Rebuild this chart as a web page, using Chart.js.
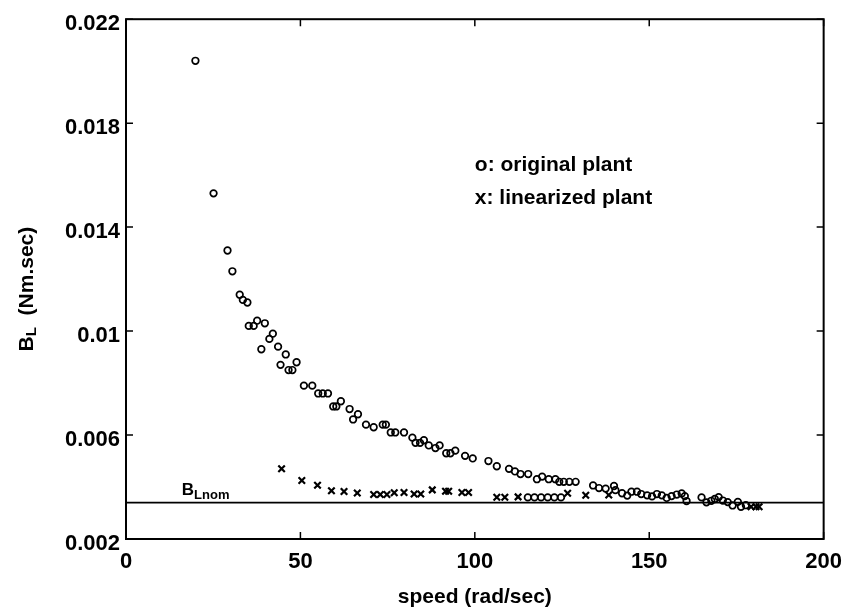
<!DOCTYPE html>
<html>
<head>
<meta charset="utf-8">
<title>B_L vs speed</title>
<script src="https://cdn.jsdelivr.net/npm/chart.js@4/dist/chart.umd.min.js"></script>
<style>
  html, body { margin: 0; padding: 0; background: #fff; }
  #wrap { width: 852px; height: 615px; }
</style>
</head>
<body>
<div id="wrap"><canvas id="chart" width="852" height="615"></canvas></div>
<script>
// original plant: speed (rad/sec) and B_L (Nm.sec)
const origSpeed = [
  19.9, 25.1, 29.1, 30.5, 32.6, 33.5, 34.8, 35.2, 36.6, 37.6,
  38.8, 39.8, 41.1, 42.1, 43.6, 44.3, 45.8, 46.6, 47.7, 48.9,
  51.0, 53.4, 55.1, 56.4, 57.9, 59.4, 60.3, 61.6, 64.1, 65.1,
  66.5, 68.8, 71.0, 73.6, 74.5, 75.9, 77.2, 79.7, 82.1, 83.0,
  84.3, 85.4, 86.8, 88.7, 89.9, 91.8, 93.0, 94.4, 97.2, 99.4,
  103.9, 106.3, 109.8, 111.5, 113.1, 115.3, 117.8, 119.3, 121.2, 123.1,
  124.2, 125.5, 127.1, 128.9,
  115.2, 117.1, 119.0, 120.9, 122.8, 124.7,
  133.9, 135.6, 137.5, 139.9, 140.3, 142.2, 143.7, 144.9, 146.5, 147.7,
  149.4, 150.8, 152.2, 153.6, 155.0, 156.4, 157.9, 159.3, 160.2, 160.7,
  165.0, 166.4, 167.8, 168.8, 169.9, 171.1, 172.5, 173.9, 175.4, 176.3,
  177.7
];
const origBL = [
  0.0204, 0.0153, 0.0131, 0.0123, 0.0114, 0.0112, 0.0111, 0.0102, 0.0102, 0.0104,
  0.0093, 0.0103, 0.0097, 0.0099, 0.0094, 0.0087, 0.0091, 0.0085, 0.0085, 0.0088,
  0.0079, 0.0079, 0.0076, 0.0076, 0.0076, 0.0071, 0.0071, 0.0073, 0.0070, 0.0066,
  0.0068, 0.0064, 0.0063, 0.0064, 0.0064, 0.0061, 0.0061, 0.0061, 0.0059, 0.0057,
  0.0057, 0.0058, 0.0056, 0.0055, 0.0056, 0.0053, 0.0053, 0.0054, 0.0052, 0.0051,
  0.0050, 0.0048, 0.0047, 0.0046, 0.0045, 0.0045, 0.0043, 0.0044, 0.0043, 0.0043,
  0.0042, 0.0042, 0.0042, 0.0042,
  0.0036, 0.0036, 0.0036, 0.0036, 0.0036, 0.0036,
  0.00406, 0.00396, 0.00394, 0.00404, 0.00388, 0.00376, 0.00367, 0.00382, 0.00382, 0.00373,
  0.00368, 0.00364, 0.00373, 0.00368, 0.00358, 0.00365, 0.00371, 0.00375, 0.00365, 0.00346,
  0.00360, 0.00341, 0.00347, 0.00354, 0.00361, 0.00348, 0.00342, 0.00329, 0.00343, 0.00324,
  0.00330
];

// linearized plant
const linSpeed = [
  44.6, 50.4, 54.9, 58.9, 62.5, 66.3, 71.0, 72.9, 74.8, 76.9,
  79.7, 82.6, 84.5, 87.8, 91.6, 92.5, 96.3, 98.2, 106.3, 108.6,
  112.4, 126.6, 131.8, 138.4, 179.2, 180.6, 181.5
];
const linBL = [
  0.0047, 0.00425, 0.00407, 0.00386, 0.00383, 0.00377, 0.00371, 0.00371, 0.00371, 0.00378,
  0.00379, 0.00373, 0.00373, 0.00389, 0.00384, 0.00384, 0.00379, 0.00379, 0.00361, 0.00361,
  0.00362, 0.00376, 0.00368, 0.00369, 0.00324, 0.00324, 0.00324
];

// nominal load damping
const nomSpeed = [0, 200];
const nomBL = 0.0034;

const xTicks = [0, 50, 100, 150, 200];
const yTicks = [0.002, 0.006, 0.01, 0.014, 0.018, 0.022];
const yTickLabels = ["0.002", "0.006", "0.01", "0.014", "0.018", "0.022"];

const FONT = "'Liberation Sans', Arial, Helvetica, sans-serif";
const INK = "#000";

const toPoints = (xs, ys) => xs.map((x, i) => ({ x: x, y: ys[i] }));

// box, inward ticks and the hand-placed texts
const framePlugin = {
  id: "frame",
  afterDraw(chart) {
    const ctx = chart.ctx;
    const a = chart.chartArea;
    const xs = chart.scales.x;
    const ys = chart.scales.y;
    const tl = 7;

    ctx.save();
    ctx.strokeStyle = INK;
    ctx.lineWidth = 2;
    ctx.strokeRect(a.left, a.top, a.right - a.left, a.bottom - a.top);

    ctx.lineWidth = 1.5;
    ctx.beginPath();
    xTicks.forEach(v => {
      const px = xs.getPixelForValue(v);
      ctx.moveTo(px, a.bottom); ctx.lineTo(px, a.bottom - tl);
      ctx.moveTo(px, a.top); ctx.lineTo(px, a.top + tl);
    });
    yTicks.forEach(v => {
      const py = ys.getPixelForValue(v);
      ctx.moveTo(a.left, py); ctx.lineTo(a.left + tl, py);
      ctx.moveTo(a.right, py); ctx.lineTo(a.right - tl, py);
    });
    ctx.stroke();

    ctx.fillStyle = INK;
    ctx.textBaseline = "middle";
    ctx.textAlign = "left";

    // legend texts
    ctx.font = "bold 21px " + FONT;
    const lx = xs.getPixelForValue(100);
    ctx.fillText("o: original plant", lx, ys.getPixelForValue(0.0164));
    ctx.fillText("x: linearized plant", lx, ys.getPixelForValue(0.0151));

    // B_Lnom tag above the nominal line
    const nx = xs.getPixelForValue(16);
    const ny = ys.getPixelForValue(nomBL);
    ctx.textBaseline = "alphabetic";
    ctx.font = "bold 17px " + FONT;
    ctx.fillText("B", nx, ny - 8);
    const bw = ctx.measureText("B").width;
    ctx.font = "bold 13px " + FONT;
    ctx.fillText("Lnom", nx + bw, ny - 4);

    // y axis title with subscript
    ctx.translate(27, (a.top + a.bottom) / 2 + 10);
    ctx.rotate(-Math.PI / 2);
    ctx.textBaseline = "middle";
    ctx.font = "bold 21px " + FONT;
    const w1 = ctx.measureText("B").width;
    const w3 = ctx.measureText("  (Nm.sec)").width;
    ctx.font = "bold 15px " + FONT;
    const w2 = ctx.measureText("L").width;
    const x0 = -(w1 + w2 + w3) / 2;
    ctx.font = "bold 21px " + FONT;
    ctx.fillText("B", x0, 0);
    ctx.font = "bold 15px " + FONT;
    ctx.fillText("L", x0 + w1, 5);
    ctx.font = "bold 21px " + FONT;
    ctx.fillText("  (Nm.sec)", x0 + w1 + w2, 0);
    ctx.restore();
  }
};

new Chart(document.getElementById("chart"), {
  type: "scatter",
  data: {
    datasets: [
      {
        label: "original plant",
        data: toPoints(origSpeed, origBL),
        pointStyle: "circle",
        pointRadius: 3.3,
        pointBorderWidth: 1.7,
        borderColor: INK,
        backgroundColor: "rgba(0,0,0,0)"
      },
      {
        label: "linearized plant",
        data: toPoints(linSpeed, linBL),
        pointStyle: "crossRot",
        pointRadius: 4.6,
        pointBorderWidth: 2.2,
        borderColor: INK,
        backgroundColor: INK
      },
      {
        type: "line",
        label: "nominal",
        data: nomSpeed.map(x => ({ x: x, y: nomBL })),
        borderColor: INK,
        borderWidth: 1.7,
        pointRadius: 0,
        fill: false
      }
    ]
  },
  options: {
    responsive: false,
    animation: false,
    devicePixelRatio: 1,
    layout: { padding: { left: 0, right: 24, top: 13, bottom: 0 } },
    plugins: {
      legend: { display: false },
      tooltip: { enabled: false }
    },
    scales: {
      x: {
        type: "linear",
        min: 0,
        max: 200,
        afterBuildTicks: s => { s.ticks = xTicks.map(v => ({ value: v })); },
        afterFit: s => { s.height = 76; },
        grid: { display: false, drawTicks: false },
        border: { display: false },
        ticks: {
          color: INK,
          font: { family: FONT, size: 22, weight: "bold" },
          padding: 10,
          maxRotation: 0,
          autoSkip: false
        },
        title: {
          display: true,
          text: "speed (rad/sec)",
          color: INK,
          font: { family: FONT, size: 21, weight: "bold" },
          padding: { top: 0, bottom: 5 }
        }
      },
      y: {
        type: "linear",
        min: 0.002,
        max: 0.022,
        afterBuildTicks: s => { s.ticks = yTicks.map(v => ({ value: v })); },
        afterFit: s => { s.width = 126; },
        grid: { display: false, drawTicks: false },
        border: { display: false },
        ticks: {
          color: INK,
          font: { family: FONT, size: 22, weight: "bold" },
          padding: 6,
          labelOffset: 5,
          autoSkip: false,
          callback: (v, i) => yTickLabels[i]
        }
      }
    }
  },
  plugins: [framePlugin]
});
</script>
</body>
</html>
